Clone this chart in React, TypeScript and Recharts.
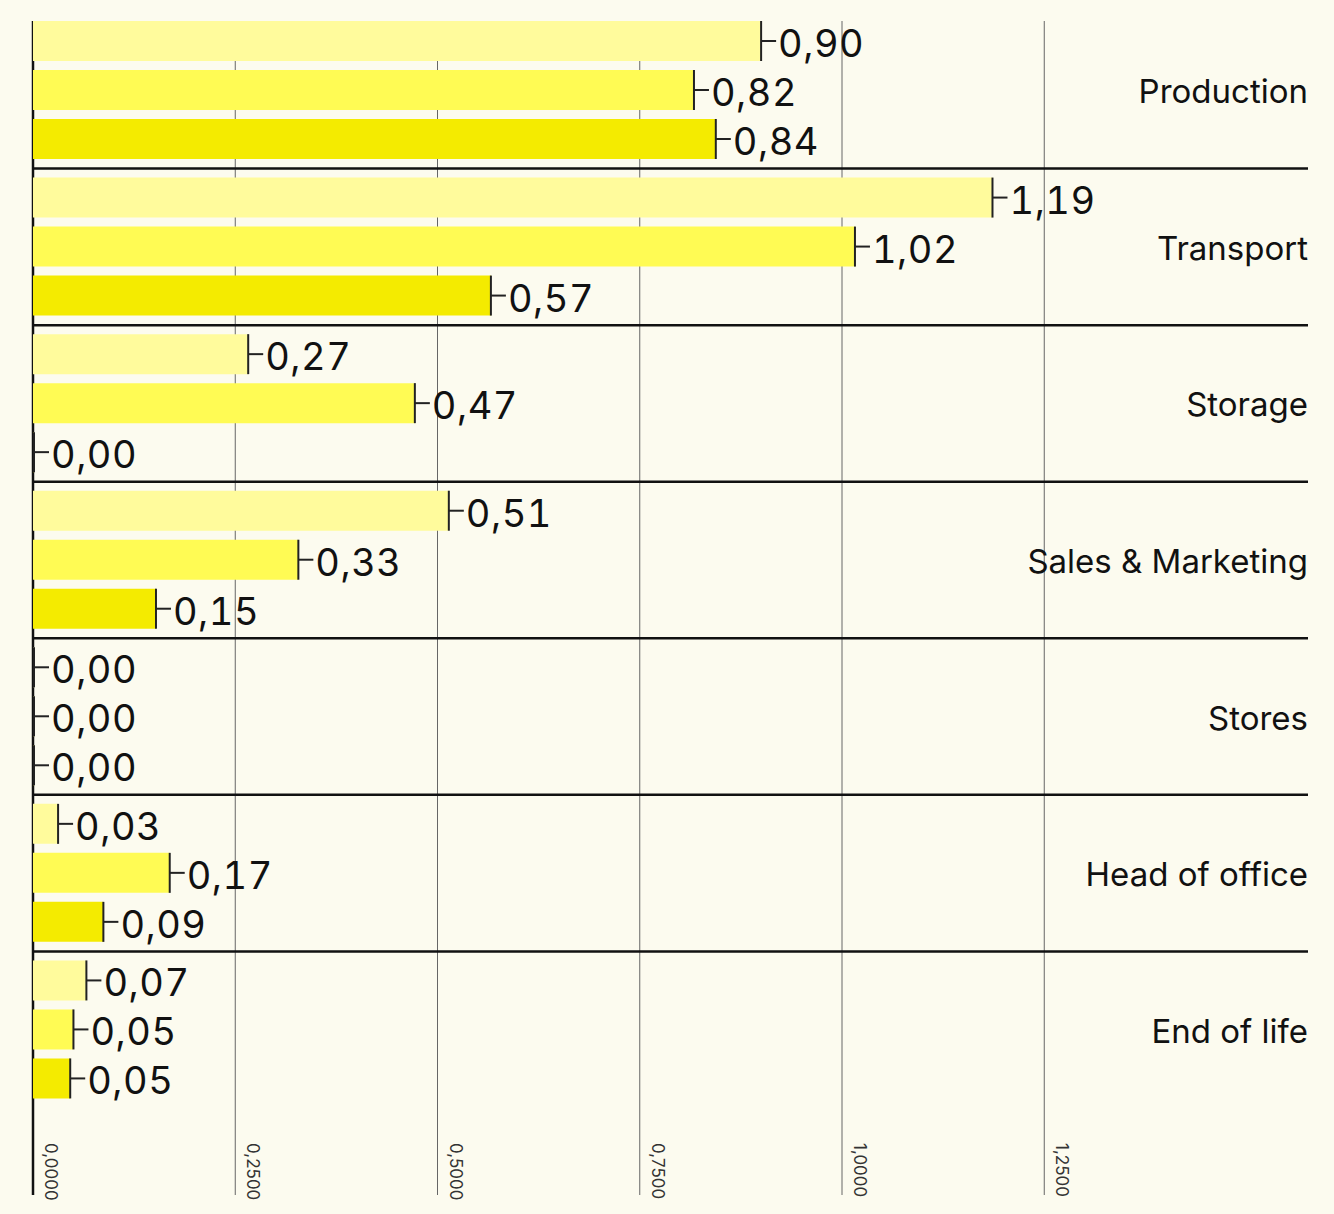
import { Bar, BarChart, CartesianGrid, LabelList, ReferenceLine, XAxis, YAxis } from 'recharts';

const categories = ['Production', 'Transport', 'Storage', 'Sales & Marketing', 'Stores', 'Head of office', 'End of life'];
const seriesA = [0.9, 1.186, 0.266, 0.514, 0, 0.031, 0.066];
const seriesB = [0.817, 1.016, 0.472, 0.328, 0, 0.169, 0.05];
const seriesC = [0.844, 0.566, 0, 0.152, 0, 0.087, 0.046];
const xTicks = [0, 0.25, 0.5, 0.75, 1, 1.25];

const data = categories.map((name, i) => ({ name, a: seriesA[i], b: seriesB[i], c: seriesC[i] }));

const BG = '#fcfbef';
const FONT = 'Inter, "Noto Sans", sans-serif';

const fmt2 = (v: number) => (Math.round(Number(v) * 100) / 100).toFixed(2).replace('.', ',');

function ValueLabel(props: any) {
  const { x, y, width, height, value } = props;
  const end = Number(x) + Number(width);
  const top = Number(y);
  const h = Number(height);
  const mid = top + h / 2;
  return (
    <g>
      <line x1={end} x2={end} y1={top} y2={top + h} stroke="#222" strokeWidth={2} />
      <line x1={end} x2={end + 15} y1={mid} y2={mid} stroke="#222" strokeWidth={2} />
      <text
        x={end + 17}
        y={mid + 2}
        dominantBaseline="central"
        fontSize={38}
        letterSpacing={0.5}
        fontFamily={FONT}
        style={{ fontFeatureSettings: '"tnum"' }}
        fill="#111"
      >
        {fmt2(value)}
      </text>
    </g>
  );
}

function CategoryTick(props: any) {
  const { x, y, payload } = props;
  return (
    <text x={x} y={y + 1} textAnchor="end" dominantBaseline="central" fontSize={33} fontFamily={FONT} fill="#111">
      {payload.value}
    </text>
  );
}

function NumberTick(props: any) {
  const { x, y, payload } = props;
  return (
    <text transform={`translate(${x + 12}, ${y + 35}) rotate(90)`} fontSize={17} fontFamily={FONT} fill="#333">
      {Number(payload.value).toFixed(4).replace('.', ',')}
    </text>
  );
}

function GridLine(props: any) {
  const { x1, x2, y1, y2, index } = props;
  const first = index === 0;
  return (
    <line
      key={`g-${index}`}
      x1={x1}
      x2={x2}
      y1={y1}
      y2={y2}
      stroke={first ? '#111' : '#666'}
      strokeWidth={first ? 2.5 : 1}
    />
  );
}

export default function App() {
  return (
    <div style={{ position: 'fixed', left: 0, top: 0, width: 1334, height: 1214, background: BG }}>
      <BarChart
        width={1334}
        height={1214}
        data={data}
        layout="vertical"
        margin={{ top: 12, right: 25, left: 33, bottom: 6 }}
        barSize={40}
        barGap={9}
      >
        <CartesianGrid horizontal={false} vertical={GridLine} syncWithTicks y={21} height={1174} />
        <XAxis
          type="number"
          domain={[0, 1.576]}
          ticks={xTicks}
          axisLine={false}
          tickLine={false}
          tickSize={0}
          tickMargin={0}
          height={100}
          tick={NumberTick}
          interval={0}
        />
        <YAxis
          type="category"
          dataKey="name"
          orientation="right"
          width={1}
          axisLine={false}
          tickLine={false}
          tickSize={0}
          tickMargin={0}
          tick={CategoryTick}
          interval={0}
        />
        {categories.map((c) => (
          <ReferenceLine key={c} y={c} position="end" stroke="#111" strokeWidth={2.5} />
        ))}
        <Bar dataKey="a" fill="#fffb9c" minPointSize={1} isAnimationActive={false}>
          <LabelList dataKey="a" content={ValueLabel} />
        </Bar>
        <Bar dataKey="b" fill="#fffb54" minPointSize={1} isAnimationActive={false}>
          <LabelList dataKey="b" content={ValueLabel} />
        </Bar>
        <Bar dataKey="c" fill="#f4eb00" minPointSize={1} isAnimationActive={false}>
          <LabelList dataKey="c" content={ValueLabel} />
        </Bar>
      </BarChart>
    </div>
  );
}
